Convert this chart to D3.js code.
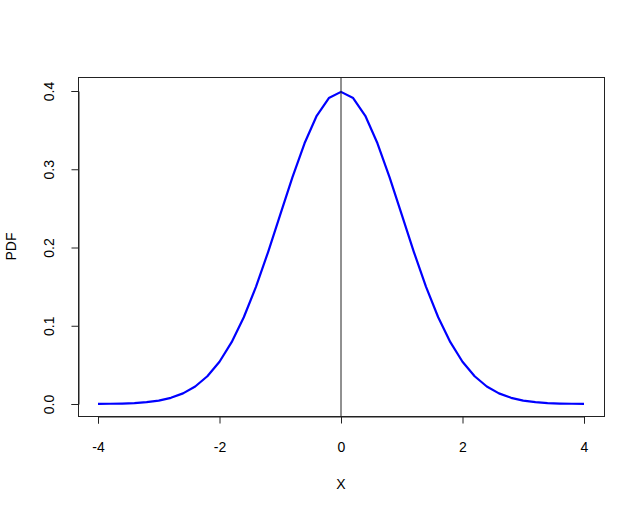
<!DOCTYPE html>
<html><head><meta charset="utf-8">
<script src="https://cdn.jsdelivr.net/npm/d3@7"></script>
<style>body{margin:0;background:#fff}svg{display:block}text{font-family:"Liberation Sans",Arial,sans-serif;font-size:14px;fill:#000}</style>
</head><body>
<script>
const xValues = [-4.0,-3.8,-3.6,-3.4,-3.2,-3.0,-2.8,-2.6,-2.4,-2.2,-2.0,-1.8,-1.6,-1.4,-1.2,-1.0,-0.8,-0.6,-0.4,-0.2,0.0,0.2,0.4,0.6,0.8,1.0,1.2,1.4,1.6,1.8,2.0,2.2,2.4,2.6,2.8,3.0,3.2,3.4,3.6,3.8,4.0];
const pdfValues = [0.0001,0.0003,0.0006,0.0012,0.0024,0.0044,0.0079,0.0136,0.0224,0.0355,0.0540,0.0790,0.1109,0.1497,0.1942,0.2420,0.2897,0.3332,0.3683,0.3910,0.3989,0.3910,0.3683,0.3332,0.2897,0.2420,0.1942,0.1497,0.1109,0.0790,0.0540,0.0355,0.0224,0.0136,0.0079,0.0044,0.0024,0.0012,0.0006,0.0003,0.0001];
const xTicks = [-4,-2,0,2,4];
const xTickLabels = ["-4","-2","0","2","4"];
const yTicks = [0.0,0.1,0.2,0.3,0.4];
const yTickLabels = ["0.0","0.1","0.2","0.3","0.4"];
const xTitle = "X", yTitle = "PDF";

const W = 644, H = 515;
const box = {left:78, right:604, top:77, bottom:416};
const x = d3.scaleLinear().domain([-4,4]).range([98,584]);
const y = d3.scaleLinear().domain([0,0.4]).range([404,91]);

const svg = d3.select("body").append("svg").attr("width",W).attr("height",H);

// curve
svg.append("path")
  .datum(xValues.map((v,i)=>[v,pdfValues[i]]))
  .attr("fill","none").attr("stroke","#0000ff").attr("stroke-width",2.2)
  .attr("stroke-linejoin","round")
  .attr("d", d3.line().x(d=>x(d[0])).y(d=>y(d[1])));

// vertical line at 0
svg.append("line").attr("x1",x(0)).attr("x2",x(0)).attr("y1",box.top).attr("y2",box.bottom)
  .attr("stroke","#222").attr("stroke-width",1);

// box
svg.append("rect").attr("x",box.left+0.5).attr("y",box.top+0.5)
  .attr("width",box.right-box.left).attr("height",box.bottom-box.top)
  .attr("fill","none").attr("stroke","#222").attr("stroke-width",1);

// x axis
const xa = svg.append("g").attr("transform",`translate(0,${box.bottom+0.5})`)
  .call(d3.axisBottom(x).tickValues(xTicks).tickFormat((d,i)=>xTickLabels[i]).tickSize(7).tickPadding(19));
xa.select(".domain").attr("stroke","#222");
xa.selectAll(".tick line").attr("stroke","#222");
xa.selectAll("text").attr("font-size",14).attr("font-family","Liberation Sans, Arial, sans-serif").attr("fill","#000");

// y axis
const ya = svg.append("g").attr("transform",`translate(${box.left+0.5},0)`)
  .call(d3.axisLeft(y).tickValues(yTicks).tickFormat((d,i)=>yTickLabels[i]).tickSize(7));
ya.select(".domain").attr("stroke","#222");
ya.selectAll(".tick line").attr("stroke","#222");
ya.selectAll("text").remove();
ya.selectAll(".tick").append("text")
  .attr("transform","translate(-29,0) rotate(-90)")
  .attr("text-anchor","middle").attr("dy","0.35em")
  .attr("font-size",14).attr("font-family","Liberation Sans, Arial, sans-serif").attr("fill","#000")
  .text((d,i)=>yTickLabels[i]);

// titles
svg.append("text").attr("x",x(0)).attr("y",489).attr("text-anchor","middle").text(xTitle);
svg.append("text").attr("transform",`translate(16,${(box.top+box.bottom)/2}) rotate(-90)`)
  .attr("text-anchor","middle").text(yTitle);
</script>
</body></html>
